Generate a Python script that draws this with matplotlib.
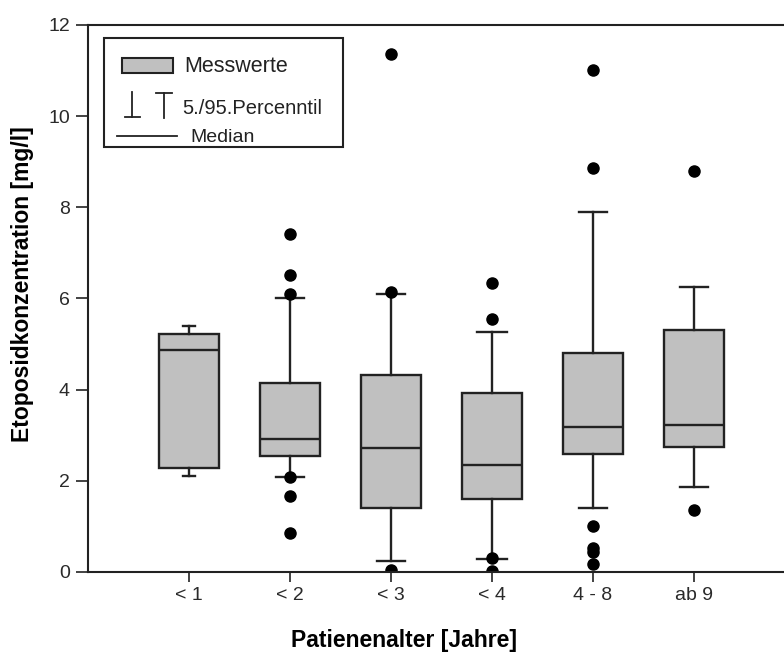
import matplotlib.pyplot as plt
from matplotlib.patches import Rectangle
from matplotlib.lines import Line2D

plt.rcParams["font.family"] = ["Liberation Sans", "DejaVu Sans"]

# Age groups and box statistics
groups = ["< 1", "< 2", "< 3", "< 4", "4 - 8", "ab 9"]
p5 = [2.10, 2.08, 0.24, 0.28, 1.40, 1.87]
q1 = [2.28, 2.54, 1.40, 1.60, 2.58, 2.75]
median = [4.88, 2.91, 2.71, 2.34, 3.18, 3.22]
q3 = [5.23, 4.14, 4.33, 3.92, 4.80, 5.31]
p95 = [5.39, 6.02, 6.10, 5.27, 7.89, 6.25]
outliers = [
    [],
    [7.42, 6.52, 6.10, 2.08, 1.66, 0.85],
    [11.36, 6.15, 0.04],
    [6.33, 5.55, 0.30, 0.03],
    [11.01, 8.87, 1.00, 0.52, 0.44, 0.17],
    [8.79, 1.36],
]

stats = []
for i, g in enumerate(groups):
    stats.append({
        "label": g,
        "whislo": p5[i],
        "q1": q1[i],
        "med": median[i],
        "q3": q3[i],
        "whishi": p95[i],
        "fliers": outliers[i],
    })

fig = plt.figure(figsize=(7.84, 6.52), dpi=100)
ax = fig.add_axes([0.1122, 0.1227, 0.9018, 0.8390])

positions = list(range(1, len(groups) + 1))
capw = [0.12, 0.27, 0.27, 0.29, 0.28, 0.28]
ax.bxp(
    stats,
    positions=positions,
    widths=0.6,
    capwidths=capw,
    patch_artist=True,
    boxprops=dict(facecolor="#c0c0c0", edgecolor="#222222", linewidth=1.7),
    medianprops=dict(color="#222222", linewidth=1.7),
    whiskerprops=dict(color="#222222", linewidth=1.7),
    capprops=dict(color="#222222", linewidth=1.7),
    flierprops=dict(marker="o", markerfacecolor="black", markeredgecolor="black",
                    markersize=8, linestyle="none"),
)

ax.set_xlim(0, 7)
ax.set_ylim(0, 12)
ax.set_yticks([0, 2, 4, 6, 8, 10, 12])
ax.set_xticks(positions)
ax.set_xticklabels(groups)
ax.spines["right"].set_visible(False)
for s in ["left", "bottom", "top"]:
    ax.spines[s].set_linewidth(1.5)
    ax.spines[s].set_color("#222222")
ax.tick_params(axis="y", direction="out", length=9, width=1.2, pad=4,
               labelsize=14, labelcolor="#2a2a2a", color="#222222")
ax.tick_params(axis="x", direction="out", length=7, width=1.2, pad=4,
               labelsize=14, labelcolor="#2a2a2a", color="#222222")

ax.set_ylabel("Etoposidkonzentration [mg/l]", fontsize=16.5, fontweight="bold")
ax.yaxis.set_label_coords(-65 / 707 * 7 / 7, (572 - 284) / 548)
ax.set_xlabel("Patienenalter [Jahre]", fontsize=16.5, fontweight="bold")
ax.xaxis.set_label_coords((404 - 88) / 707, -(641 - 572) / 548)
ax.xaxis.label.set_va("center")
ax.yaxis.label.set_va("center")

# Hand-drawn legend box (figure pixel coordinates -> fraction)
W, H = 784, 652


def fx(px):
    return px / W


def fy(py):
    return 1 - py / H


tf = fig.transFigure
fig.add_artist(Rectangle((fx(104), fy(147)), fx(343) - fx(104), fy(38) - fy(147),
                         transform=tf, facecolor="white", edgecolor="#222222",
                         linewidth=1.5, zorder=5))
fig.add_artist(Rectangle((fx(122), fy(73)), fx(173) - fx(122), fy(58) - fy(73),
                         transform=tf, facecolor="#c0c0c0", edgecolor="#222222",
                         linewidth=1.5, zorder=6))
fig.text(fx(184), fy(66), "Messwerte", fontsize=15.5, va="center", ha="left",
         color="#222222", zorder=6)
# perpendicular / T symbols
lw = 1.3
for seg in [
    ((125, 140), (117, 117)), ((132, 132), (92, 117)),
    ((156, 172), (93, 93)), ((164, 164), (93, 118)),
]:
    fig.add_artist(Line2D([fx(seg[0][0]), fx(seg[0][1])], [fy(seg[1][0]), fy(seg[1][1])],
                          transform=tf, color="#222222", linewidth=lw, zorder=6))
fig.text(fx(182), fy(109), "5./95.Percenntil", fontsize=14.5, va="center", ha="left",
         color="#222222", zorder=6)
fig.add_artist(Line2D([fx(117), fx(177)], [fy(136), fy(136)], transform=tf,
                      color="#222222", linewidth=1.3, zorder=6))
fig.text(fx(190), fy(137), "Median", fontsize=14, va="center", ha="left",
         color="#222222", zorder=6)

fig.savefig("out.png", dpi=100)
